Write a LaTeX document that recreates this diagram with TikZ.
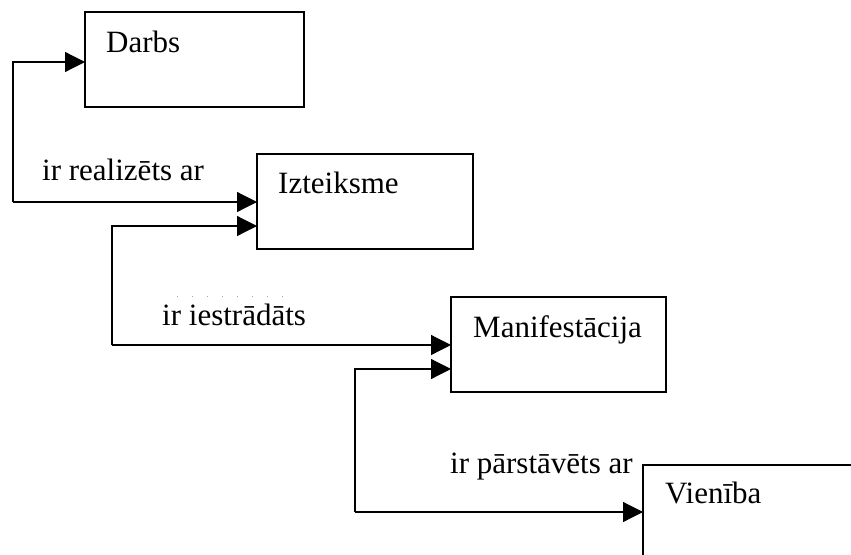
\documentclass[tikz,border=0pt]{standalone}
\usepackage{fontspec}
\setmainfont{Liberation Serif}
\usetikzlibrary{arrows.meta}

\tikzset{
  entity/.style={draw=black, line width=1.2pt, rectangle, anchor=north west,
    minimum height=95pt, inner sep=0pt, outer sep=0pt},
  entitytext/.style={anchor=base west, inner sep=0pt, font=\fontsize{31}{37}\selectfont},
  rellabel/.style={anchor=base west, inner sep=0pt, font=\fontsize{31}{37}\selectfont},
  link/.style={draw=black, line width=1.2pt},
  linkarrow/.style={link, -{Triangle[length=20pt,width=20pt]}},
}

\begin{document}
\begin{tikzpicture}[x=1pt, y=-1pt]
  \useasboundingbox (0,0) rectangle (851,554);
  \begin{scope}
    \clip (0,0) rectangle (851,554);

    % entity boxes
    \node[entity, minimum width=219pt] (darbs) at (85,12) {};
    \node[entity, minimum width=216pt] (izt)   at (257,154) {};
    \node[entity, minimum width=215pt] (manif) at (451,297) {};
    \node[entity, minimum width=215pt] (vien)  at (643,465) {};

    % entity names
    \node[entitytext] (t-darbs) at (106,52)  {Darbs};
    \node[entitytext] (t-izt)   at (278,193) {Izteiksme};
    \node[entitytext] (t-manif) at (473,337) {Manifestācija};
    \node[entitytext] (t-vien)  at (665,503) {Vienība};

    % junction points of the relationship connectors
    \coordinate (j1) at (13,202);
    \coordinate (j2) at (112,345);
    \coordinate (j3) at (355,512);

    % Darbs -- Izteiksme
    \draw[linkarrow] (j1) |- ([yshift=-2.5pt]darbs.west);
    \draw[linkarrow] (j1) -- (j1 -| izt.west);
    \node[rellabel] (r1) at (42,180) {ir realizēts ar};

    % Izteiksme -- Manifestācija
    \draw[linkarrow] (j2) |- ([yshift=-24.5pt]izt.west);
    \draw[linkarrow] (j2) -- (j2 -| manif.west);
    \node[rellabel] (r2) at (162,325) {ir iestrādāts};
    \draw[gray!70, line width=0.8pt, dash pattern=on 1pt off 14pt] (177,296) -- (290,296);

    % Manifestācija -- Vienība
    \draw[linkarrow] (j3) |- ([yshift=-24.5pt]manif.west);
    \draw[linkarrow] (j3) -- (j3 -| vien.west);
    \node[rellabel] (r3) at (450,473) {ir pārstāvēts ar};
  \end{scope}
\end{tikzpicture}
\end{document}
